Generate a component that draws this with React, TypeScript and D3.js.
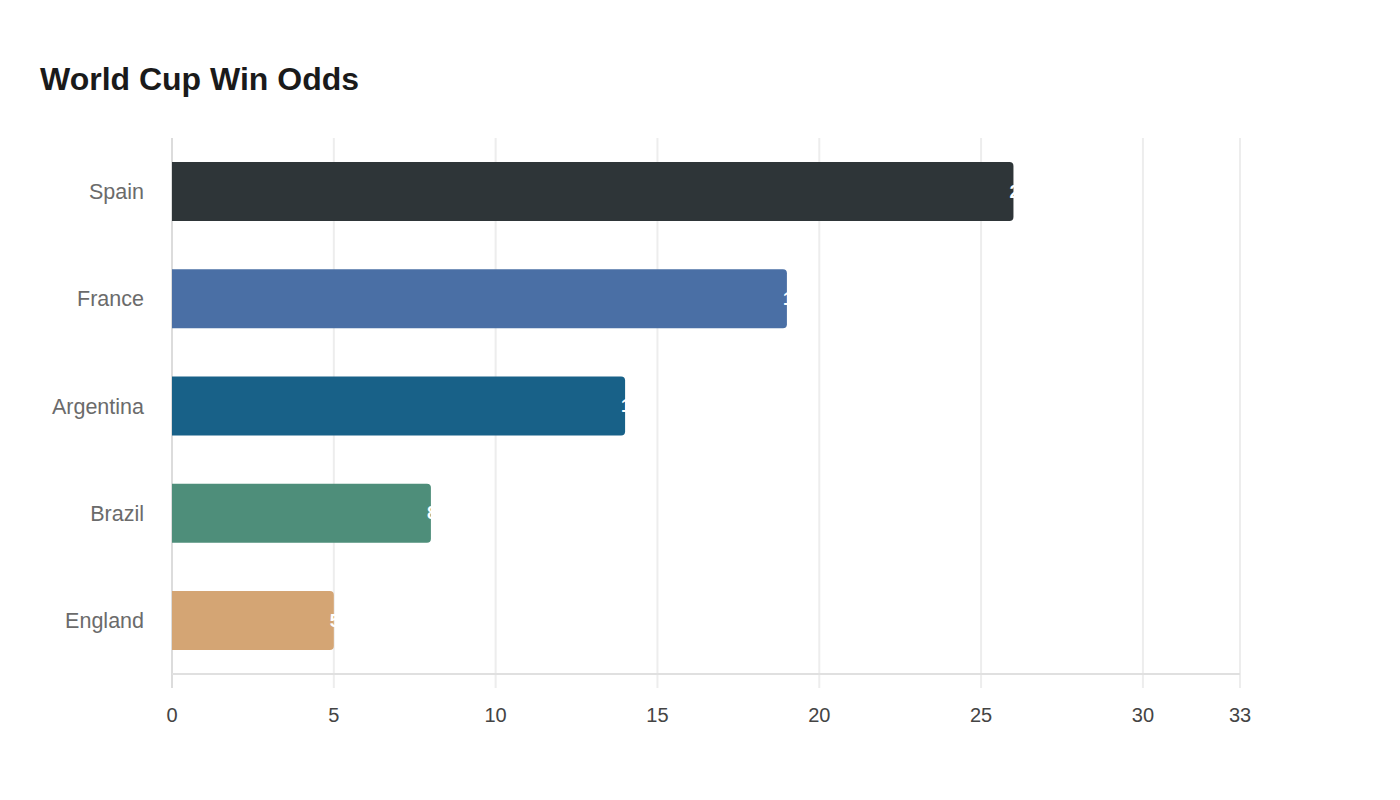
import React from "react";
import * as d3 from "d3";

const categories = ["Spain", "France", "Argentina", "Brazil", "England"];
const values = [26, 19, 14, 8, 5];
const colors = ["#2e3538", "#4a6fa5", "#186188", "#4e8e7a", "#d4a574"];
const tickValues = [0, 5, 10, 15, 20, 25, 30, 33];

const W = 1400;
const H = 800;
const margin = { top: 138, right: 160, bottom: 126, left: 172 };
const FONT = "'Liberation Sans', Arial, Helvetica, sans-serif";

export default function App() {
  const innerW = W - margin.left - margin.right;
  const innerH = H - margin.top - margin.bottom;

  const x = d3.scaleLinear().domain([0, 33]).range([0, innerW]);
  const y = d3
    .scaleBand()
    .domain(categories)
    .range([0, innerH])
    .paddingInner(0.45)
    .paddingOuter(0.225);

  const bw = y.bandwidth();
  const r = 4;

  // rounded on the right end only
  const barPath = (w: number, h: number) => {
    const rr = Math.min(r, w / 2, h / 2);
    return `M0,0H${w - rr}Q${w},0 ${w},${rr}V${h - rr}Q${w},${h} ${w - rr},${h}H0Z`;
  };

  return (
    <div style={{ position: "absolute", left: 0, top: 0 }}>
      <svg width={W} height={H} style={{ display: "block", background: "#fff", fontFamily: FONT }}>
        <text x={40} y={90} fontSize={32} fontWeight={700} fill="#1a1a1a">
          World Cup Win Odds
        </text>

        <g transform={`translate(${margin.left},${margin.top})`}>
          {/* grid */}
          {tickValues.map((t) => (
            <line
              key={`g${t}`}
              x1={x(t)}
              x2={x(t)}
              y1={0}
              y2={innerH + 14}
              stroke="#ededed"
              strokeWidth={2}
            />
          ))}
          <line x1={0} x2={0} y1={0} y2={innerH + 14} stroke="#dcdcdc" strokeWidth={2} />
          <line x1={0} x2={innerW} y1={innerH} y2={innerH} stroke="#e0e0e0" strokeWidth={2} />

          {/* bars */}
          {categories.map((c, i) => {
            const w = x(values[i]);
            const yy = y(c) || 0;
            return (
              <g key={c} transform={`translate(0,${yy})`}>
                <path d={barPath(w, bw)} fill={colors[i]} />
                <text
                  x={w - 4}
                  y={bw / 2}
                  dy="0.35em"
                  fontSize={18}
                  fontWeight={700}
                  fill="#ffffff"
                  textAnchor="start"
                >
                  {values[i]}
                </text>
                <text
                  x={-28}
                  y={bw / 2}
                  dy="0.35em"
                  fontSize={21.5}
                  fill="#6b6b6b"
                  textAnchor="end"
                >
                  {c}
                </text>
              </g>
            );
          })}

          {/* tick labels */}
          {tickValues.map((t) => (
            <text
              key={`t${t}`}
              x={x(t)}
              y={innerH + 48}
              fontSize={20}
              fill="#444444"
              textAnchor="middle"
            >
              {t}
            </text>
          ))}
        </g>
      </svg>
    </div>
  );
}
